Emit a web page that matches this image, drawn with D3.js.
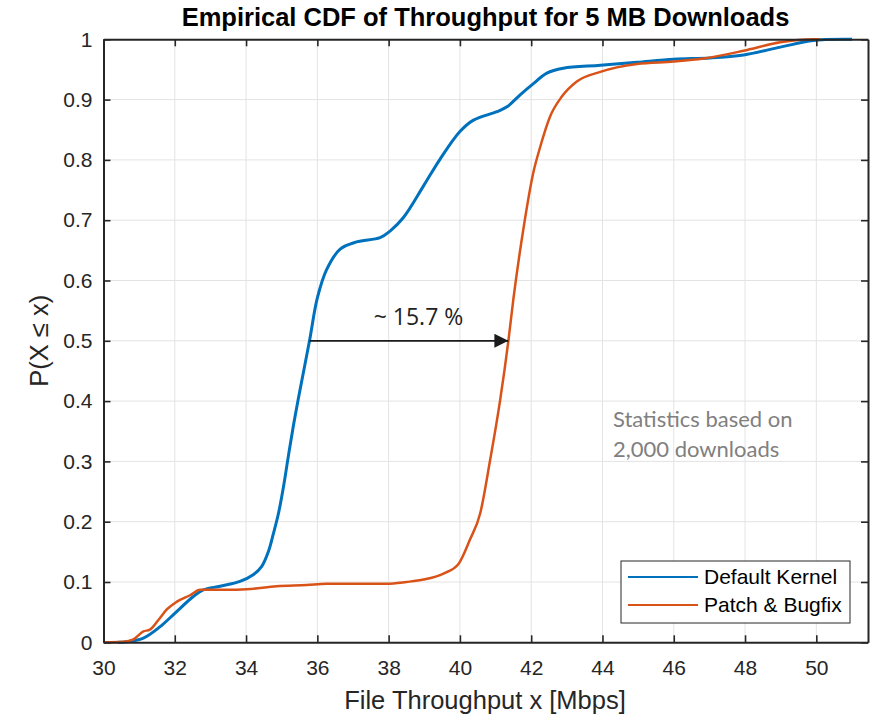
<!DOCTYPE html>
<html>
<head>
<meta charset="utf-8">
<script src="https://cdn.jsdelivr.net/npm/d3@7"></script>
<style>
  body { margin: 0; background: #fff; }
  svg { display: block; }
</style>
</head>
<body>
<div id="chart"></div>
<script>
// values
const xTicks = [30, 32, 34, 36, 38, 40, 42, 44, 46, 48, 50];
const yTicks = [0, 0.1, 0.2, 0.3, 0.4, 0.5, 0.6, 0.7, 0.8, 0.9, 1];

const defaultX = [30.4, 30.65, 31.12, 31.59, 32.0, 32.52, 32.8, 33.27, 33.83, 34.2, 34.44, 34.63, 34.77, 34.91, 35.05, 35.19, 35.33, 35.47, 35.78, 36.0, 36.26, 36.64, 37.1, 37.76, 38.04, 38.41, 38.98, 39.44, 40.0, 40.38, 41.04, 41.32, 41.69, 42.07, 42.44, 42.9, 43.94, 44.97, 46.0, 47.02, 47.96, 48.99, 49.92, 50.9, 51.0];
const defaultP = [0, 0.001, 0.007, 0.026, 0.048, 0.076, 0.087, 0.093, 0.101, 0.112, 0.126, 0.151, 0.181, 0.214, 0.258, 0.31, 0.36, 0.405, 0.5, 0.571, 0.618, 0.652, 0.664, 0.671, 0.682, 0.704, 0.757, 0.801, 0.847, 0.866, 0.88, 0.888, 0.908, 0.927, 0.944, 0.952, 0.957, 0.962, 0.967, 0.969, 0.974, 0.987, 0.998, 1.0, 1.0];

const patchX = [30.0, 30.56, 30.84, 31.12, 31.3, 31.54, 31.77, 32.05, 32.43, 32.71, 33.46, 34.02, 34.86, 35.7, 36.26, 37.95, 38.5, 38.98, 39.54, 39.96, 40.28, 40.57, 40.85, 41.13, 41.36, 41.5, 41.78, 42.06, 42.25, 42.53, 42.86, 43.28, 43.94, 44.97, 46.0, 46.83, 47.96, 48.99, 49.92, 50.1];
const patchP = [0, 0.001, 0.005, 0.018, 0.021, 0.037, 0.054, 0.067, 0.078, 0.087, 0.087, 0.088, 0.093, 0.095, 0.097, 0.097, 0.1, 0.104, 0.114, 0.13, 0.17, 0.214, 0.303, 0.402, 0.5, 0.569, 0.685, 0.779, 0.821, 0.872, 0.905, 0.93, 0.946, 0.959, 0.963, 0.968, 0.981, 0.995, 1.0, 1.0];

const seriesNames = ["Default Kernel", "Patch & Bugfix"];
const arrowFrom = 35.78, arrowTo = 41.36, arrowP = 0.5;

const width = 879, height = 715;
const plot = {left: 103.5, right: 868, top: 39.3, bottom: 642.3};
const font = "'Liberation Sans', Arial, sans-serif";

const svg = d3.select("#chart").append("svg")
    .attr("width", width)
    .attr("height", height)
    .style("font-family", font);

const x = d3.scaleLinear().domain([30, 51.45]).range([plot.left, plot.right]);
const y = d3.scaleLinear().domain([0, 1]).range([plot.bottom, plot.top]);

// grid
svg.append("g")
    .selectAll("line")
    .data(xTicks)
    .enter().append("line")
    .attr("x1", d => x(d)).attr("x2", d => x(d))
    .attr("y1", plot.top).attr("y2", plot.bottom)
    .attr("stroke", "#e3e3e3").attr("stroke-width", 1);
svg.append("g")
    .selectAll("line")
    .data(yTicks)
    .enter().append("line")
    .attr("x1", plot.left).attr("x2", plot.right)
    .attr("y1", d => y(d)).attr("y2", d => y(d))
    .attr("stroke", "#e3e3e3").attr("stroke-width", 1);

// curves
const series = [
    {name: seriesNames[0], xs: defaultX, ps: defaultP, color: "#0072BD", w: 3, curve: d3.curveCatmullRom.alpha(0.5)},
    {name: seriesNames[1], xs: patchX, ps: patchP, color: "#D95319", w: 2.5, curve: d3.curveMonotoneX}
];

svg.append("g")
    .selectAll("path")
    .data(series)
    .enter().append("path")
    .attr("d", s => d3.line()
        .x(d => x(d[0]))
        .y(d => y(d[1]))
        .curve(s.curve)(s.xs.map((v, i) => [v, s.ps[i]])))
    .attr("fill", "none")
    .attr("stroke", s => s.color)
    .attr("stroke-width", s => s.w);

// axes (box with inward ticks)
const tickLen = 7;
const axisColor = "#262626";

const bottomAxis = svg.append("g")
    .attr("transform", "translate(0," + plot.bottom + ")")
    .call(d3.axisBottom(x).tickValues(xTicks).tickSizeInner(-tickLen).tickSizeOuter(0).tickPadding(18));
const topAxis = svg.append("g")
    .attr("transform", "translate(0," + plot.top + ")")
    .call(d3.axisTop(x).tickValues(xTicks).tickSizeInner(-tickLen).tickSizeOuter(0).tickFormat(""));
const leftAxis = svg.append("g")
    .attr("transform", "translate(" + plot.left + ",0)")
    .call(d3.axisLeft(y).tickValues(yTicks).tickSizeInner(-tickLen).tickSizeOuter(0).tickPadding(11)
        .tickFormat(d => String(+d.toFixed(1))));
const rightAxis = svg.append("g")
    .attr("transform", "translate(" + plot.right + ",0)")
    .call(d3.axisRight(y).tickValues(yTicks).tickSizeInner(-tickLen).tickSizeOuter(0).tickFormat(""));

[bottomAxis, topAxis, leftAxis, rightAxis].forEach(g => {
    g.selectAll(".domain").attr("stroke", axisColor).attr("stroke-width", 2);
    g.selectAll(".tick line").attr("stroke", axisColor).attr("stroke-width", 1.6);
    g.selectAll("text")
        .attr("fill", "#262626")
        .style("font-family", font)
        .style("font-size", "21px");
});
bottomAxis.selectAll("text").attr("dy", "0.71em");

// title and axis labels
svg.append("text")
    .attr("x", 485.5).attr("y", 26)
    .attr("text-anchor", "middle")
    .style("font-weight", "bold")
    .style("font-size", "25.5px")
    .attr("fill", "#000")
    .text("Empirical CDF of Throughput for 5 MB Downloads");

svg.append("text")
    .attr("x", 485).attr("y", 709)
    .attr("text-anchor", "middle")
    .style("font-size", "25.5px")
    .attr("fill", "#262626")
    .text("File Throughput x [Mbps]");

svg.append("text")
    .attr("transform", "translate(48," + y(0.5) + ") rotate(-90)")
    .attr("text-anchor", "middle")
    .style("font-size", "25.5px")
    .attr("fill", "#262626")
    .text("P(X \u2264 x)");

// arrow annotation
svg.append("defs").append("marker")
    .attr("id", "head")
    .attr("viewBox", "0 0 10 10")
    .attr("refX", 10).attr("refY", 5)
    .attr("markerWidth", 16).attr("markerHeight", 14)
    .attr("markerUnits", "userSpaceOnUse")
    .attr("orient", "auto")
    .append("path")
    .attr("d", "M0,0L10,5L0,10Z")
    .attr("fill", "#1a1a1a");

svg.append("line")
    .attr("x1", x(arrowFrom)).attr("x2", x(arrowTo))
    .attr("y1", y(arrowP)).attr("y2", y(arrowP))
    .attr("stroke", "#1a1a1a")
    .attr("stroke-width", 1.8)
    .attr("marker-end", "url(#head)");

svg.append("text")
    .attr("x", 418.5).attr("y", 325)
    .attr("text-anchor", "middle")
    .style("font-family", "'Open Sans', 'Noto Sans', sans-serif")
    .style("font-size", "23px")
    .attr("fill", "#222")
    .text("~ 15.7 %");

// note
const note = svg.append("text")
    .style("font-family", "Lato, 'Open Sans', sans-serif")
    .style("font-size", "22px")
    .attr("fill", "#808080");
note.append("tspan").attr("x", 613).attr("y", 427).text("Statistics based on");
note.append("tspan").attr("x", 613).attr("y", 457).text("2,000 downloads");

// legend
const legend = svg.append("g").attr("transform", "translate(621,561)");
legend.append("rect")
    .attr("width", 229).attr("height", 62)
    .attr("fill", "#fff")
    .attr("stroke", "#262626").attr("stroke-width", 1);
legend.selectAll("g.item")
    .data(series)
    .enter().append("g")
    .attr("transform", (d, i) => "translate(0," + (16 + i * 28) + ")")
    .each(function(d) {
        const g = d3.select(this);
        g.append("line")
            .attr("x1", 7).attr("x2", 77)
            .attr("stroke", d.color).attr("stroke-width", 2);
        g.append("text")
            .attr("x", 83).attr("dy", "0.35em")
            .style("font-size", "21px")
            .attr("fill", "#000")
            .text(d.name);
    });
</script>
</body>
</html>
